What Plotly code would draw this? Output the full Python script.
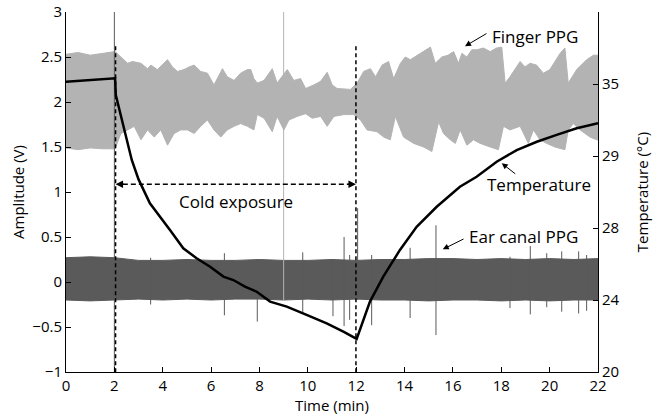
import plotly.graph_objects as go

# ---------------- data ----------------
# Finger PPG envelope (V)
finger_up_t = [0, 0.5, 1.0, 1.5, 2.03, 2.55, 2.75, 3.10, 3.37, 3.51, 3.78, 4.20, 4.40, 4.61, 4.88, 5.09,
               5.30, 5.57, 5.85, 6.12, 6.47, 6.67, 6.95, 7.22, 7.50, 7.64, 7.77, 7.91, 8.19, 8.53, 8.73,
               9.15, 9.42, 9.70, 9.91, 10.25, 10.53, 10.80, 11.01, 11.21, 11.76, 12.04, 12.31, 12.59,
               12.80, 13.07, 13.34, 13.55, 13.83, 14.03, 14.24, 14.65, 15.07, 15.27, 15.54, 15.80, 16.03,
               16.23, 16.37, 16.58, 16.78, 16.99, 17.26, 17.54, 17.81, 18.02, 18.16, 18.36, 18.78, 18.98,
               19.19, 19.46, 19.74, 20.01, 20.43, 20.63, 20.77, 21.12, 21.53, 21.81, 22.0]
finger_up = [2.53, 2.55, 2.52, 2.54, 2.56, 2.43, 2.45, 2.43, 2.37, 2.41, 2.36, 2.47, 2.39, 2.34, 2.36, 2.39,
             2.41, 2.34, 2.32, 2.19, 2.37, 2.28, 2.24, 2.32, 2.36, 2.36, 2.26, 2.21, 2.24, 2.37, 2.21,
             2.36, 2.24, 2.26, 2.15, 2.19, 2.23, 2.33, 2.19, 2.15, 2.14, 2.21, 2.34, 2.37,
             2.28, 2.41, 2.45, 2.26, 2.43, 2.50, 2.47, 2.54, 2.61, 2.43, 2.50, 2.52, 2.56,
             2.43, 2.54, 2.50, 2.58, 2.58, 2.60, 2.56, 2.60, 2.61, 2.21, 2.28, 2.45, 2.39,
             2.43, 2.41, 2.32, 2.36, 2.54, 2.60, 2.21, 2.36, 2.47, 2.52, 2.52]
finger_lo_t = [0, 0.5, 1.0, 1.5, 2.03, 2.27, 2.55, 2.82, 3.10, 3.37, 3.65, 3.92, 4.20, 4.47, 4.75, 5.02,
               5.30, 5.57, 5.85, 6.12, 6.40, 6.67, 6.95, 7.22, 7.50, 7.77, 7.91, 8.19, 8.53, 8.73, 9.01,
               9.22, 9.56, 9.91, 10.18, 10.53, 10.80, 11.08, 11.49, 11.90, 12.18, 12.45, 12.86, 13.14,
               13.41, 13.62, 13.96, 14.38, 14.79, 15.13, 15.41, 15.61, 15.89, 16.10, 16.30, 16.58, 16.85,
               17.13, 17.54, 17.88, 18.09, 18.36, 18.78, 19.12, 19.33, 19.60, 19.88, 20.22, 20.63, 20.77,
               20.98, 21.26, 21.67, 21.95, 22.0]
finger_lo = [1.49, 1.47, 1.49, 1.48, 1.48, 1.65, 1.69, 1.73, 1.58, 1.69, 1.61, 1.69, 1.52, 1.65, 1.69, 1.69,
             1.65, 1.73, 1.80, 1.69, 1.61, 1.69, 1.73, 1.76, 1.73, 1.69, 1.86, 1.82, 1.67, 1.84, 1.69,
             1.80, 1.84, 1.87, 1.82, 1.84, 1.73, 1.84, 1.86, 1.86, 1.80, 1.69, 1.67, 1.61,
             1.58, 1.84, 1.61, 1.54, 1.50, 1.45, 1.78, 1.65, 1.58, 1.54, 1.69, 1.52, 1.58,
             1.54, 1.50, 1.47, 1.73, 1.69, 1.73, 1.54, 1.69, 1.58, 1.54, 1.50, 1.47, 1.69,
             1.76, 1.69, 1.61, 1.58, 1.58]
finger_spike_t = [9.0]
finger_spike_lo = [-0.2]
finger_spike_hi = [3.0]

# Ear canal PPG envelope (V)
ear_t = [0, 1, 2, 3, 4, 5, 6, 7, 8, 9, 10, 11, 12, 13, 14, 15, 16, 17, 18, 19, 20, 21, 22]
ear_up = [0.27, 0.28, 0.27, 0.24, 0.24, 0.25, 0.24, 0.24, 0.25, 0.24, 0.24, 0.25, 0.24, 0.25, 0.25,
          0.26, 0.26, 0.25, 0.26, 0.25, 0.26, 0.25, 0.26]
ear_lo = [-0.20, -0.21, -0.20, -0.19, -0.20, -0.19, -0.20, -0.19, -0.19, -0.20, -0.19, -0.20, -0.19,
          -0.20, -0.20, -0.21, -0.20, -0.20, -0.21, -0.20, -0.21, -0.20, -0.20]
ear_spike_t = [2.0, 3.5, 6.55, 7.91, 9.79, 11.04, 11.5, 11.73, 12.06, 12.64, 14.23, 15.30, 18.36, 19.2,
               19.88, 20.5, 21.2, 21.53]
ear_spike_lo = [-1.0, -0.25, -0.37, -0.44, -0.34, -0.38, -0.49, -0.42, -0.20, -0.48, -0.40, -0.59, -0.29,
                -0.36, -0.28, -0.33, -0.35, -0.32]
ear_spike_hi = [3.0, 0.27, 0.32, 0.22, 0.33, 0.24, 0.50, 0.30, 0.82, 0.30, 0.38, 0.63, 0.28, 0.40, 0.32,
                0.34, 0.34, 0.30]

# Temperature (°C)
temp_t = [0, 2.03, 2.06, 2.72, 3.0, 3.47, 4.30, 4.85, 5.40, 5.96, 6.51, 6.92, 7.40, 7.89, 8.44, 9.13,
          9.95, 10.78, 11.47, 12.02, 12.57, 13.12, 13.81, 14.50, 15.33, 16.29, 16.98, 17.81, 18.64,
          19.47, 20.29, 21.12, 22.0]
temp = [36.13, 36.32, 35.39, 31.78, 30.70, 29.37, 27.89, 26.87, 26.32, 25.85, 25.30, 25.11, 24.74, 24.46,
        23.91, 23.63, 23.17, 22.70, 22.24, 21.84, 23.91, 25.30, 26.78, 28.07, 29.18, 30.29, 30.85, 31.68,
        32.33, 32.79, 33.17, 33.54, 33.82]

# Cold exposure window (min)
cold_start, cold_end = 2.05, 11.99

# Axis ticks
x_ticks = [0, 2, 4, 6, 8, 10, 12, 14, 16, 18, 20, 22]
temp_tickvals = [20, 24, 28, 32, 36]
temp_ticktext = ["20", "24", "28", "29", "35"]

FINGER_C = "#b3b3b3"
EAR_C = "#5a5a5a"
FONT = "Open Sans"


def seg(ts, los, his):
    xs, ys = [], []
    for t, lo, hi in zip(ts, los, his):
        xs += [t, t, None]
        ys += [lo, hi, None]
    return xs, ys


fig = go.Figure()

fig.add_trace(go.Scatter(x=finger_up_t + finger_lo_t[::-1], y=finger_up + finger_lo[::-1],
                         fill="toself", fillcolor=FINGER_C, mode="lines",
                         line=dict(color=FINGER_C, width=1), hoverinfo="skip", showlegend=False))
fig.add_trace(go.Scatter(x=ear_t + ear_t[::-1], y=ear_up + ear_lo[::-1],
                         fill="toself", fillcolor=EAR_C, mode="lines",
                         line=dict(color=EAR_C, width=1), hoverinfo="skip", showlegend=False))
sx, sy = seg(finger_spike_t, finger_spike_lo, finger_spike_hi)
fig.add_trace(go.Scatter(x=sx, y=sy, mode="lines", line=dict(color=FINGER_C, width=1),
                         hoverinfo="skip", showlegend=False))
sx, sy = seg(ear_spike_t, ear_spike_lo, ear_spike_hi)
fig.add_trace(go.Scatter(x=sx, y=sy, mode="lines", line=dict(color=EAR_C, width=1),
                         hoverinfo="skip", showlegend=False))

for t in (cold_start, cold_end):
    fig.add_trace(go.Scatter(x=[t, t], y=[2.62, -1], mode="lines",
                             line=dict(color="black", width=1.5, dash="4px,3px"),
                             hoverinfo="skip", showlegend=False))
fig.add_trace(go.Scatter(x=[cold_start + 0.3, cold_end - 0.3], y=[1.086, 1.086], mode="lines",
                         line=dict(color="black", width=1.5, dash="5px,3px"),
                         hoverinfo="skip", showlegend=False))

fig.add_trace(go.Scatter(x=temp_t, y=temp, yaxis="y2", mode="lines",
                         line=dict(color="black", width=2.5), hoverinfo="skip", showlegend=False))

ann = []
txt = dict(font=dict(family=FONT, size=17, color="black"), showarrow=False)
ann.append(dict(x=17.54, y=2.73, xref="x", yref="y", text="Finger PPG", xanchor="left", **txt))
ann.append(dict(x=17.33, y=1.08, xref="x", yref="y", text="Temperature", xanchor="left", **txt))
ann.append(dict(x=16.58, y=0.511, xref="x", yref="y", text="Ear canal PPG", xanchor="left", **txt))
ann.append(dict(x=7.03, y=0.90, xref="x", yref="y", text="Cold exposure", xanchor="center", **txt))

arr = dict(showarrow=True, text="", arrowhead=2, arrowsize=1.2, arrowwidth=1, arrowcolor="black",
           xref="x", yref="y", axref="x", ayref="y", standoff=0)
ann.append(dict(x=16.5, y=2.62, ax=17.45, ay=2.77, **arr))
ann.append(dict(x=18.02, y=1.319, ax=18.64, ay=1.189, **arr))
ann.append(dict(x=15.58, y=0.363, ax=16.50, ay=0.486, **arr))
arr2 = dict(arr)
arr2.update(arrowwidth=1.5, arrowsize=1.0)
ann.append(dict(x=cold_start, y=1.086, ax=cold_start + 0.4, ay=1.086, **arr2))
ann.append(dict(x=cold_end, y=1.086, ax=cold_end - 0.4, ay=1.086, **arr2))

axis_font = dict(family=FONT, size=15, color="black")
common = dict(ticks="inside", ticklen=5, tickcolor="black", showline=True, linecolor="black",
              linewidth=1, showgrid=False, zeroline=False, tickfont=axis_font, automargin=False)
fig.update_layout(
    width=665, height=416,
    margin=dict(l=66, r=67, t=12, b=44),
    plot_bgcolor="white", paper_bgcolor="white",
    font=axis_font,
    annotations=ann,
    xaxis=dict(range=[0, 22], tickvals=x_ticks,
               title=dict(text="Time (min)", font=axis_font, standoff=2), **common),
    yaxis=dict(range=[-1, 3], dtick=0.5,
               title=dict(text="Amplitude (V)", font=axis_font, standoff=4), **common),
    yaxis2=dict(range=[20, 40], overlaying="y", side="right", tickvals=temp_tickvals,
                ticktext=temp_ticktext,
                title=dict(text="Temperature (°C)", font=axis_font, standoff=18), **common),
)

fig.write_html("out.html", config={"displayModeBar": False},
               post_script="document.body.style.margin='0';document.body.style.overflow='hidden';")
